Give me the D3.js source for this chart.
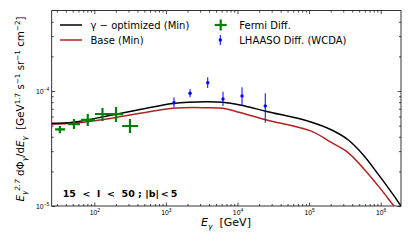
<!DOCTYPE html>
<html><head><meta charset="utf-8">
<script src="https://cdn.jsdelivr.net/npm/d3@7"></script>
<style>body{margin:0;background:#fff}svg{display:block}text{white-space:pre}</style>
</head><body>
<script>
// ---- data ----
const curveE        = [25.6, 50.5, 150, 435, 1256, 3715, 6270, 10800, 25600, 103000, 207000, 353000, 571000, 977000, 1500000, 1920000];
const optimizedF    = [5.23e-5, 5.34e-5, 6.06e-5, 6.90e-5, 7.79e-5, 8.07e-5, 7.97e-5, 7.55e-5, 6.64e-5, 5.41e-5, 4.58e-5, 3.75e-5, 2.78e-5, 1.80e-5, 1.25e-5, 1.0e-5];
const baseE         = [25.6, 50.5, 150, 435, 1256, 3715, 6270, 10800, 25600, 103000, 207000, 353000, 571000, 977000, 1530000, 1920000];
const baseF         = [5.13e-5, 5.23e-5, 5.71e-5, 6.40e-5, 7.08e-5, 7.16e-5, 7.08e-5, 6.50e-5, 5.60e-5, 4.52e-5, 3.55e-5, 2.90e-5, 2.13e-5, 1.43e-5, 1.0e-5, 8.4e-6];

const fermiE    = [33, 52, 81, 130, 201, 315];
const fermiElo  = [28.3, 43, 65, 102, 160, 245];
const fermiEhi  = [39, 63, 102, 166, 252, 410];
const fermiF    = [4.64e-5, 5.16e-5, 5.60e-5, 6.31e-5, 6.30e-5, 4.96e-5];
const fermiFlo  = [4.30e-5, 4.67e-5, 4.96e-5, 5.48e-5, 5.37e-5, 4.31e-5];
const fermiFhi  = [4.96e-5, 5.71e-5, 6.31e-5, 7.12e-5, 7.26e-5, 5.71e-5];

const lhaasoE   = [1297, 2173, 3837, 6270, 11560, 24400];
const lhaasoF   = [7.91e-5, 9.55e-5, 1.18e-4, 8.52e-5, 9.05e-5, 7.41e-5];
const lhaasoFlo = [7.21e-5, 8.81e-5, 1.062e-4, 7.41e-5, 7.45e-5, 5.30e-5];
const lhaasoFhi = [8.81e-5, 1.035e-4, 1.315e-4, 9.86e-5, 1.077e-4, 9.55e-5];

const xMajorTicks = [1e2, 1e3, 1e4, 1e5, 1e6];
const xTickExps   = ["2", "3", "4", "5", "6"];
const yMajorTicks = [1e-5, 1e-4];
const yTickExps   = ["\u22125", "\u22124"];
const legendLabels = ["\u03b3 \u2212 optimized (Min)", "Base (Min)", "Fermi Diff.", "LHAASO Diff. (WCDA)"];

// ---- layout ----
const W = 413, H = 248;
const L = 51.7, R = 401, T = 10.6, B = 206;
const FONT = "DejaVu Sans, sans-serif";

const svg = d3.select("body").append("svg").attr("width", W).attr("height", H)
  .style("font-family", FONT);

const x = d3.scaleLog().domain([25.4, 1.92e6]).range([L, R]);
const y = d3.scaleLog().domain([1e-5, 5e-4]).range([B, T]);

svg.append("defs").append("clipPath").attr("id", "clip")
  .append("rect").attr("x", L).attr("y", T).attr("width", R - L).attr("height", B - T);

function minors(lo, hi) {
  const out = [];
  for (let e = Math.floor(Math.log10(lo)); e <= Math.ceil(Math.log10(hi)); e++) {
    for (let m = 2; m <= 9; m++) { const v = m * Math.pow(10, e); if (v > lo && v < hi) out.push(v); }
  }
  return out;
}
const xMinor = minors(25.4, 1.92e6);
const yMinor = minors(1e-5, 5e-4);

function styleAxis(g) {
  g.select(".domain").remove();
  g.selectAll(".tick line").attr("stroke", "#000").attr("stroke-width", 0.7);
}

// bottom
const gb = svg.append("g").attr("transform", `translate(0,${B})`)
  .call(d3.axisBottom(x).tickValues(xMajorTicks).tickSize(-3.5).tickPadding(2.5).tickFormat(""));
styleAxis(gb);
gb.selectAll(".tick text").each(function(d, i) {
  const t = d3.select(this).attr("fill", "#000").attr("font-size", 6.8).attr("dy", "0.92em").text(null);
  t.append("tspan").text("10");
  t.append("tspan").text(xTickExps[i]).attr("font-size", 4.9).attr("dy", -3);
});
svg.append("g").attr("transform", `translate(0,${B})`)
  .call(d3.axisBottom(x).tickValues(xMinor).tickSize(-2).tickFormat("")).call(styleAxis);
// top
svg.append("g").attr("transform", `translate(0,${T})`)
  .call(d3.axisTop(x).tickValues(xMajorTicks).tickSize(-3.5).tickFormat("")).call(styleAxis);
svg.append("g").attr("transform", `translate(0,${T})`)
  .call(d3.axisTop(x).tickValues(xMinor).tickSize(-2).tickFormat("")).call(styleAxis);
// left
const gl = svg.append("g").attr("transform", `translate(${L},0)`)
  .call(d3.axisLeft(y).tickValues(yMajorTicks).tickSize(-3.5).tickPadding(2.5).tickFormat(""));
styleAxis(gl);
gl.selectAll(".tick text").each(function(d, i) {
  const t = d3.select(this).attr("fill", "#000").attr("font-size", 6.8).attr("dy", "0.35em").text(null);
  t.append("tspan").text("10");
  t.append("tspan").text(yTickExps[i]).attr("font-size", 4.9).attr("dy", -3);
});
svg.append("g").attr("transform", `translate(${L},0)`)
  .call(d3.axisLeft(y).tickValues(yMinor).tickSize(-2).tickFormat("")).call(styleAxis);
// right
svg.append("g").attr("transform", `translate(${R},0)`)
  .call(d3.axisRight(y).tickValues(yMajorTicks).tickSize(-3.5).tickFormat("")).call(styleAxis);
svg.append("g").attr("transform", `translate(${R},0)`)
  .call(d3.axisRight(y).tickValues(yMinor).tickSize(-2).tickFormat("")).call(styleAxis);

// frame
svg.append("rect").attr("x", L).attr("y", T).attr("width", R - L).attr("height", B - T)
  .attr("fill", "none").attr("stroke", "#000").attr("stroke-width", 0.8);

// curves
const plot = svg.append("g").attr("clip-path", "url(#clip)");
const line = d3.line().x(d => x(d[0])).y(d => y(d[1])).curve(d3.curveCatmullRom.alpha(0.5));
plot.append("path").datum(baseE.map((e, i) => [e, baseF[i]]))
  .attr("d", line).attr("fill", "none").attr("stroke", "#b22222").attr("stroke-width", 1.5);
plot.append("path").datum(curveE.map((e, i) => [e, optimizedF[i]]))
  .attr("d", line).attr("fill", "none").attr("stroke", "#000").attr("stroke-width", 1.5);

// Fermi crosses
const green = "#008000";
fermiE.forEach((e, i) => {
  plot.append("line").attr("x1", x(fermiElo[i])).attr("x2", x(fermiEhi[i]))
    .attr("y1", y(fermiF[i])).attr("y2", y(fermiF[i])).attr("stroke", green).attr("stroke-width", 2.2);
  plot.append("line").attr("x1", x(e)).attr("x2", x(e))
    .attr("y1", y(fermiFlo[i])).attr("y2", y(fermiFhi[i])).attr("stroke", green).attr("stroke-width", 2.2);
});
// LHAASO points
const blue = "#0000ff";
lhaasoE.forEach((e, i) => {
  plot.append("line").attr("x1", x(e)).attr("x2", x(e))
    .attr("y1", y(lhaasoFlo[i])).attr("y2", y(lhaasoFhi[i])).attr("stroke", blue).attr("stroke-width", 1);
  plot.append("circle").attr("cx", x(e)).attr("cy", y(lhaasoF[i])).attr("r", 1.7).attr("fill", blue);
});

// legend
const lg = svg.append("g").attr("font-size", 10).attr("fill", "#000");
[[25, "#000"], [40, "#b22222"]].forEach(([yy, c], i) => {
  lg.append("line").attr("x1", 60).attr("x2", 82).attr("y1", yy).attr("y2", yy).attr("stroke", c).attr("stroke-width", 1.5);
  lg.append("text").attr("x", 90.5).attr("y", yy + 3.6).text(legendLabels[i]);
});
lg.append("line").attr("x1", 214.7).attr("x2", 226.7).attr("y1", 25).attr("y2", 25).attr("stroke", green).attr("stroke-width", 2.2);
lg.append("line").attr("x1", 220.7).attr("x2", 220.7).attr("y1", 19.5).attr("y2", 30.5).attr("stroke", green).attr("stroke-width", 2.2);
lg.append("text").attr("x", 239.3).attr("y", 28.6).text(legendLabels[2]);
lg.append("line").attr("x1", 220.3).attr("x2", 220.3).attr("y1", 35).attr("y2", 45).attr("stroke", blue).attr("stroke-width", 1);
lg.append("circle").attr("cx", 220.3).attr("cy", 40).attr("r", 1.7).attr("fill", blue);
lg.append("text").attr("x", 239.3).attr("y", 43.6).text(legendLabels[3]);

// annotation
svg.append("text").attr("x", 62.7).attr("y", 197).attr("font-size", 9.5).attr("font-weight", "bold")
  .text("15  <  l  <  50 ; |b|\u2009<\u20095");

// rich text helper
function rich(t, parts, fs) {
  let cur = 0;
  parts.forEach(p => {
    const target = p.s === "sup" ? -0.4 * fs : p.s === "sub" ? 0.25 * fs : 0;
    const ts = t.append("tspan").text(p.t).attr("dy", target - cur);
    cur = target;
    if (p.s) ts.attr("font-size", fs * 0.7);
    if (p.i) ts.attr("font-style", "italic");
  });
}

// x label
const xl = svg.append("text").attr("x", 226).attr("y", 226).attr("text-anchor", "middle").attr("font-size", 11);
rich(xl, [{t: "E", i: 1}, {t: "\u03b3", i: 1, s: "sub"}, {t: "  [GeV]"}], 11);

// y label
const yl = svg.append("text").attr("transform", "translate(24,109) rotate(-90)").attr("text-anchor", "middle").attr("font-size", 10.3);
rich(yl, [
  {t: "E", i: 1}, {t: "\u03b3", i: 1, s: "sub"}, {t: "2.7", i: 1, s: "sup"},
  {t: " d\u03a6"}, {t: "\u03b3", i: 1, s: "sub"}, {t: "/d"}, {t: "E", i: 1}, {t: "\u03b3", i: 1, s: "sub"},
  {t: "  [GeV"}, {t: "1.7", s: "sup"}, {t: " s"}, {t: "\u22121", s: "sup"}, {t: " sr"}, {t: "\u22121", s: "sup"},
  {t: " cm"}, {t: "\u22122", s: "sup"}, {t: "]"}
], 10.3);
</script>
</body></html>
